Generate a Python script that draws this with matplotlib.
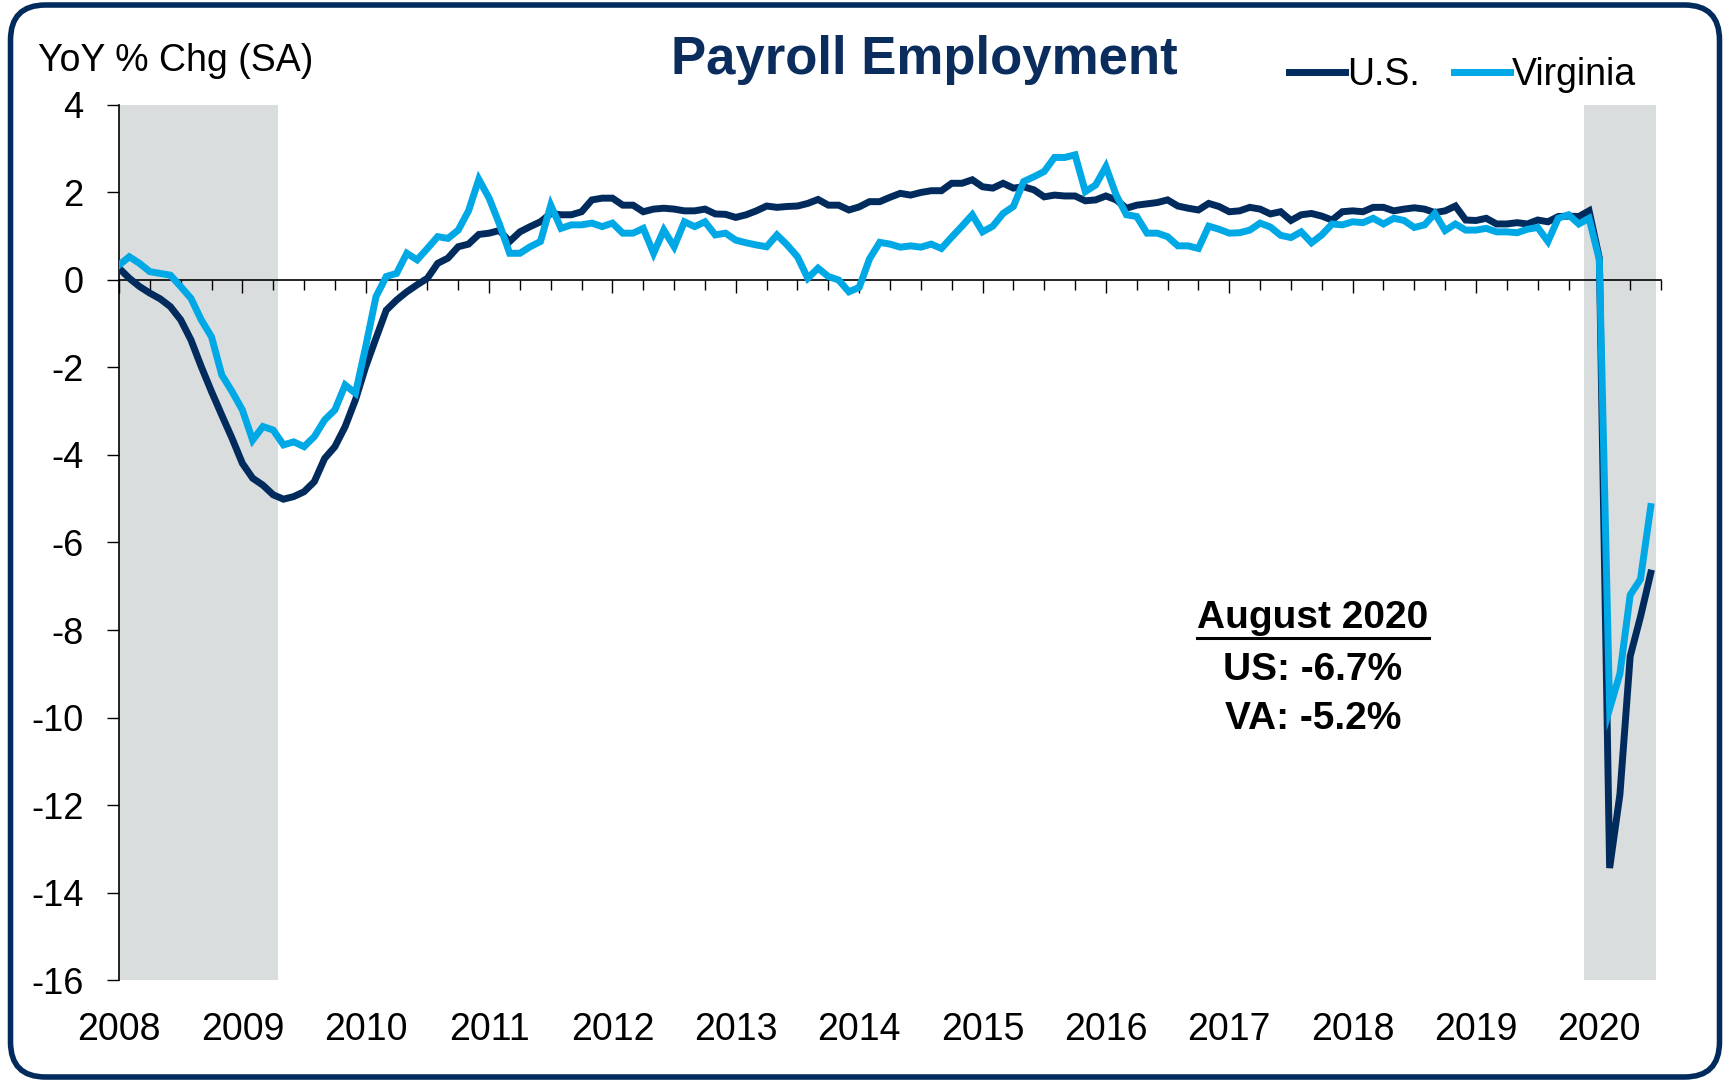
import numpy as np
import pandas as pd
import matplotlib
matplotlib.use("Agg")
import matplotlib.pyplot as plt
from matplotlib.patches import FancyBboxPatch
from matplotlib.lines import Line2D
from matplotlib.transforms import IdentityTransform

plt.rcParams['font.family'] = ['Liberation Sans', 'DejaVu Sans']
plt.rcParams['axes.unicode_minus'] = False

# monthly, Mar 2008 - Aug 2020, YoY % change (SA)
months = pd.date_range('2008-03-01', '2020-08-01', freq='MS')

us = [0.27, 0.04, -0.15, -0.30, -0.43, -0.61, -0.91, -1.37, -1.98, -2.55,
      -3.09, -3.62, -4.19, -4.53, -4.69, -4.91, -5.01, -4.95, -4.84, -4.61,
      -4.08, -3.81, -3.35, -2.74, -1.98, -1.33, -0.69, -0.46, -0.27, -0.11,
      0.04, 0.38, 0.50, 0.76, 0.82, 1.04, 1.07, 1.13, 0.88, 1.10,
      1.22, 1.33, 1.52, 1.49, 1.49, 1.56, 1.83, 1.87, 1.87, 1.71,
      1.71, 1.56, 1.62, 1.64, 1.62, 1.58, 1.58, 1.62, 1.51, 1.50,
      1.43, 1.49, 1.58, 1.69, 1.66, 1.68, 1.69, 1.75, 1.84, 1.71,
      1.71, 1.60, 1.67, 1.79, 1.79, 1.89, 1.98, 1.94, 2.00, 2.04,
      2.04, 2.21, 2.21, 2.29, 2.13, 2.10, 2.21, 2.10, 2.13, 2.06,
      1.90, 1.94, 1.92, 1.92, 1.81, 1.83, 1.92, 1.83, 1.64, 1.71,
      1.74, 1.77, 1.83, 1.69, 1.64, 1.60, 1.75, 1.68, 1.56, 1.58,
      1.66, 1.62, 1.51, 1.56, 1.36, 1.49, 1.52, 1.46, 1.37, 1.56,
      1.58, 1.56, 1.66, 1.66, 1.58, 1.62, 1.65, 1.62, 1.54, 1.58,
      1.69, 1.37, 1.36, 1.41, 1.28, 1.28, 1.31, 1.28, 1.37, 1.33,
      1.45, 1.46, 1.45, 1.58, 0.50, -13.44, -11.76, -8.60, -7.70, -6.70]

va = [0.34, 0.53, 0.38, 0.19, 0.15, 0.11, -0.15, -0.42, -0.91, -1.30,
      -2.17, -2.55, -2.97, -3.66, -3.35, -3.43, -3.77, -3.70, -3.81, -3.58,
      -3.20, -2.97, -2.40, -2.59, -1.52, -0.38, 0.08, 0.15, 0.61, 0.46,
      0.72, 0.99, 0.95, 1.14, 1.58, 2.30, 1.87, 1.28, 0.61, 0.61,
      0.76, 0.88, 1.71, 1.18, 1.26, 1.26, 1.30, 1.22, 1.30, 1.07,
      1.07, 1.18, 0.61, 1.14, 0.76, 1.33, 1.22, 1.33, 1.03, 1.07,
      0.91, 0.85, 0.80, 0.76, 1.03, 0.80, 0.53, 0.04, 0.27, 0.08,
      0.00, -0.27, -0.17, 0.48, 0.86, 0.82, 0.75, 0.78, 0.75, 0.82,
      0.72, 0.98, 1.23, 1.49, 1.10, 1.23, 1.52, 1.68, 2.25, 2.36,
      2.48, 2.80, 2.80, 2.86, 2.02, 2.17, 2.59, 1.94, 1.49, 1.45,
      1.07, 1.07, 0.99, 0.78, 0.78, 0.72, 1.23, 1.16, 1.07, 1.08,
      1.14, 1.30, 1.21, 1.02, 0.97, 1.10, 0.85, 1.03, 1.28, 1.26,
      1.33, 1.31, 1.41, 1.28, 1.41, 1.36, 1.20, 1.26, 1.52, 1.13,
      1.28, 1.14, 1.14, 1.18, 1.10, 1.10, 1.08, 1.16, 1.20, 0.88,
      1.41, 1.49, 1.28, 1.41, 0.46, -9.80, -9.00, -7.20, -6.84, -5.18]

year_labels = [str(y) for y in range(2008, 2021)]
recessions = [('2008-03-01', '2009-06-01'), ('2020-02-01', '2020-08-01')]

navy = '#002b5c'
light = '#00a8e6'
grey = '#d9dddd'

x = np.arange(len(months))

fig = plt.figure(figsize=(17.27, 10.81), dpi=100)
ax = fig.add_axes([0.0689, 0.0934, 0.8929, 0.8095])

for start, end in recessions:
    s = months.get_loc(pd.Timestamp(start))
    e = months.get_loc(pd.Timestamp(end))
    ax.axvspan(s - 0.5, e + 0.5, color=grey, lw=0, zorder=1)

l_us, = ax.plot(x, us, color=navy, lw=5, zorder=3, solid_joinstyle='miter')
l_va, = ax.plot(x, va, color=light, lw=5, zorder=4, solid_joinstyle='miter')

ax.set_xlim(0, 150)
ax.set_ylim(-16, 4)
ax.set_yticks(np.arange(-16, 5, 2))
ax.tick_params(axis='y', direction='out', length=8.5, width=1, pad=17,
               labelsize=26)

for side in ['top', 'right']:
    ax.spines[side].set_visible(False)
ax.spines['bottom'].set_position(('data', 0))
ax.spines['bottom'].set_linewidth(1.2)
ax.spines['left'].set_linewidth(1.2)

year_pos = np.arange(0, len(months), 12)
ax.set_xticks(year_pos)
ax.set_xticks([t for t in range(0, 151, 3) if t % 12 != 0], minor=True)
ax.tick_params(axis='x', which='major', direction='out', length=9, width=1,
               labelbottom=False)
ax.tick_params(axis='x', which='minor', direction='out', length=7, width=1)

secax = ax.secondary_xaxis('bottom')
secax.set_xticks(year_pos, labels=year_labels)
secax.tick_params(length=0, pad=23, labelsize=27)
secax.spines['bottom'].set_visible(False)

fig.text(924 / 1727, 1 - 74 / 1081, 'Payroll Employment', ha='center',
         va='baseline', fontsize=38, fontweight='bold', color='#0b2d5e')
fig.text(38 / 1727, 1 - 71 / 1081, 'YoY % Chg (SA)', ha='left',
         va='baseline', fontsize=27)

fig.legend(handles=[l_us, l_va], labels=['U.S.', 'Virginia'],
           loc='center left', bbox_to_anchor=(1289 / 1727, 1 - 75 / 1081),
           ncol=2, frameon=False, fontsize=27, handlelength=1.5,
           handletextpad=0.05, columnspacing=0.9, borderpad=0,
           borderaxespad=0)

t1 = fig.text(1313 / 1727, 1 - 628 / 1081, 'August 2020', ha='center',
              va='baseline', fontsize=28, fontweight='bold')
fig.text(1313 / 1727, 1 - 680 / 1081, 'US: -6.7%', ha='center',
         va='baseline', fontsize=28, fontweight='bold')
fig.text(1313 / 1727, 1 - 729 / 1081, 'VA: -5.2%', ha='center',
         va='baseline', fontsize=28, fontweight='bold')

# outer rounded frame
frame = FancyBboxPatch((10.5, 4), 1709, 1072,
                       boxstyle='round,pad=0,rounding_size=35',
                       fill=False, ec=navy, lw=4, transform=IdentityTransform())
fig.add_artist(frame)

# underline the date heading
fig.canvas.draw()
bb = t1.get_window_extent()
fig.add_artist(Line2D([bb.x0, bb.x1], [bb.y0 - 2, bb.y0 - 2], color='black',
                      lw=2.2, transform=IdentityTransform()))

fig.savefig('out.png', dpi=100)
